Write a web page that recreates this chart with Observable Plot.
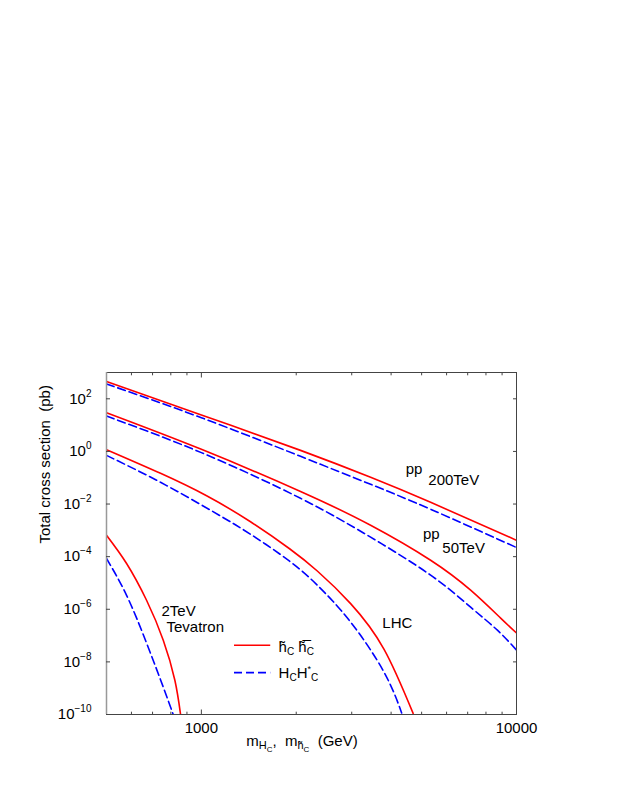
<!DOCTYPE html>
<html><head><meta charset="utf-8">
<script src="https://cdn.jsdelivr.net/npm/d3@7"></script>
<script src="https://cdn.jsdelivr.net/npm/@observablehq/plot@0.6"></script>
<style>
body{margin:0;background:#fff}
svg text{font-family:"Liberation Sans",Arial,Helvetica,sans-serif}
</style>
</head><body><div id="chart"></div>
<script>
// masses (GeV) and total cross sections (pb)
const tevHHm = [500, 579, 670, 757, 824, 859];
const tevHHs = [6.5e-4, 5.5e-5, 2.2e-6, 6.7e-8, 2.0e-9, 1e-10];
const tevHCm = [500, 579, 670, 757, 814];
const tevHCs = [8.5e-5, 3.4e-6, 5.2e-8, 1.1e-9, 1e-10];
const lhcHHm = [500, 742, 1039, 1432, 1905, 2333, 2976, 3796, 4699];
const lhcHHs = [1.165, 0.147, 0.0206, 2.12e-3, 2.0e-4, 2.85e-5, 1.64e-6, 3.07e-8, 1.1e-10];
const lhcHCm = [500, 742, 1077, 1432, 1905, 2333, 2976, 3796, 4321];
const lhcHCs = [0.708, 0.0669, 5.54e-3, 7.11e-4, 6.72e-5, 8.25e-6, 3.25e-7, 4.12e-9, 1.15e-10];
const pp50HHm = [500, 1000, 2064, 3444, 5339, 7152, 8906, 10000];
const pp50HHs = [29.5, 1.2, 0.030, 1.56e-3, 7.3e-5, 5.3e-6, 4.6e-7, 1.25e-7];
const pp50HCm = [500, 1000, 2064, 3444, 5339, 7152, 8698, 10000];
const pp50HCs = [22, 0.90, 0.0165, 5.5e-4, 1.98e-5, 1.2e-6, 1.6e-7, 2.8e-8];
const pp200HHm = [500, 1000, 2064, 3444, 5339, 10000];
const pp200HHs = [455, 24.4, 1.096, 0.1035, 0.01165, 4.21e-4];
const pp200HCm = [500, 1000, 2064, 3444, 5339, 10000];
const pp200HCs = [366, 19.1, 0.649, 0.0562, 6.32e-3, 2.22e-4];

// tick values
const xMajor = [1000, 10000];
const xMinor = [600, 700, 800, 900, 2000, 3000, 4000, 5000, 6000, 7000, 8000, 9000];
const yMajor = [1e-10, 1e-8, 1e-6, 1e-4, 1e-2, 1, 100];

const series = [
  ["tev", "hh", tevHHm, tevHHs], ["tev", "HH", tevHCm, tevHCs],
  ["lhc", "hh", lhcHHm, lhcHHs], ["lhc", "HH", lhcHCm, lhcHCs],
  ["pp50", "hh", pp50HHm, pp50HHs], ["pp50", "HH", pp50HCm, pp50HCs],
  ["pp200", "hh", pp200HHm, pp200HHs], ["pp200", "HH", pp200HCm, pp200HCs]
];
const rows = series.flatMap(([c, k, ms, ss]) => ms.map((m, i) => ({collider: c, kind: k, m, s: ss[i]})));

const RED = "#ff0000", BLUE = "#0000ff", AX = "#444";
const FS = 15;

const chart = Plot.plot({
  width: 623, height: 806,
  marginLeft: 106, marginRight: 107, marginTop: 372, marginBottom: 92,
  style: {fontFamily: "'Liberation Sans', Arial, sans-serif", fontSize: FS + "px", background: "white", color: "black"},
  x: {type: "log", domain: [500, 10000], label: null},
  y: {type: "log", domain: [1e-10, 1e3], label: null},
  marks: [
    Plot.line(rows.filter(d => d.kind === "hh"), {x: "m", y: "s", z: "collider", stroke: RED, strokeWidth: 1.6, curve: "natural", clip: true}),
    Plot.line(rows.filter(d => d.kind === "HH"), {x: "m", y: "s", z: "collider", stroke: BLUE, strokeWidth: 1.6, strokeDasharray: "8,4", curve: "natural", clip: true}),
    Plot.frame({stroke: AX}),
    Plot.ruleX([500], {stroke: "#999", strokeWidth: 1.5}),
    Plot.axisX(xMajor, {anchor: "bottom", tickSize: -4.5, tickPadding: 12.2, tickFormat: d => String(d), label: null, stroke: AX}),
    Plot.axisX(xMinor, {anchor: "bottom", tickSize: -2.3, tickFormat: () => "", label: null, stroke: AX}),
    Plot.axisX(xMajor, {anchor: "top", tickSize: -4.5, tickFormat: () => "", label: null, stroke: AX}),
    Plot.axisX(xMinor, {anchor: "top", tickSize: -2.3, tickFormat: () => "", label: null, stroke: AX}),
    Plot.axisY(yMajor, {anchor: "left", tickSize: -4, tickPadding: 19, tickFormat: d => String(Math.round(Math.log10(d))), label: null, stroke: AX}),
    Plot.axisY(yMajor, {anchor: "right", tickSize: -4, tickFormat: () => "", label: null, stroke: AX}),
    // axis titles
    Plot.text(["Total cross section\u00a0\u00a0(pb)"], {text: d => d, frameAnchor: "left", dx: -61.5, rotate: -90, fontSize: FS}),
    Plot.text(["{xlabel}"], {text: d => d, frameAnchor: "bottom", textAnchor: "start", dx: -65.3, dy: 31.2, fontSize: FS}),
    // curve annotations
    Plot.text(["pp"], {text: d => d, x: 4449, y: 0.218, textAnchor: "start", fontSize: FS}),
    Plot.text(["200TeV"], {text: d => d, x: 5251, y: 0.0783, textAnchor: "start", fontSize: FS}),
    Plot.text(["pp"], {text: d => d, x: 5048, y: 7.43e-4, textAnchor: "start", fontSize: FS}),
    Plot.text(["50TeV"], {text: d => d, x: 5817, y: 2.11e-4, textAnchor: "start", fontSize: FS}),
    Plot.text(["LHC"], {text: d => d, x: 3751, y: 2.85e-7, textAnchor: "start", fontSize: FS}),
    Plot.text(["2TeV"], {text: d => d, x: 747, y: 8.36e-7, textAnchor: "start", fontSize: FS}),
    Plot.text(["Tevatron"], {text: d => d, x: 775, y: 2.12e-7, textAnchor: "start", fontSize: FS}),
    // legend
    Plot.ruleY([4.3e-8], {x1: 1274, x2: 1660, stroke: RED, strokeWidth: 1.6}),
    Plot.ruleY([3.9e-9], {x1: 1274, x2: 1660, stroke: BLUE, strokeWidth: 1.6, strokeDasharray: "8,4"}),
    Plot.text(["{leg1}"], {text: d => d, x: 1758, y: 3.69e-8, textAnchor: "start", fontSize: FS}),
    Plot.text(["{leg2}"], {text: d => d, x: 1758, y: 3.61e-9, textAnchor: "start", fontSize: FS})
  ]
});
document.getElementById("chart").appendChild(chart);

// rich text (sub/superscripts) as real tspans
const NS = "http://www.w3.org/2000/svg";
function rich(el, parts) {
  el.textContent = "";
  let cur = 0;
  for (const p of parts) {
    const ts = document.createElementNS(NS, "tspan");
    ts.textContent = p.t;
    if (p.size) ts.setAttribute("font-size", p.size);
    const off = p.off || 0;
    if (off !== cur) { ts.setAttribute("dy", off - cur); cur = off; }
    if (p.dx) ts.setAttribute("dx", p.dx);
    el.appendChild(ts);
  }
}
const svg = d3.select(chart);
svg.selectAll('g[aria-label="y-axis tick label"] text').each(function() {
  const raw = this.textContent;
  if (!raw) return;
  const e = raw.replace("-", "\u2212");
  rich(this, [{t: "10"}, {t: e, size: 10, off: -7}]);
});
svg.selectAll("text").each(function() {
  const t = this.textContent;
  if (t === "{xlabel}") rich(this, [
    {t: "m"}, {t: "H", size: 11, off: 3.5}, {t: "C", size: 8, off: 6},
    {t: ",\u00a0\u00a0m", off: 0}, {t: "h\u0303", size: 11, off: 3.5}, {t: "C", size: 8, off: 6},
    {t: "\u00a0\u00a0(GeV)", off: 0}
  ]);
  if (t === "{leg1}") rich(this, [
    {t: "h\u0303"}, {t: "C", size: 10, off: 3}, {t: "\u00a0", off: 0},
    {t: "h\u0303\u0305"}, {t: "C", size: 10, off: 3}
  ]);
  if (t === "{leg2}") rich(this, [
    {t: "H"}, {t: "C", size: 10, off: 3}, {t: "H", off: 0},
    {t: "*", size: 9, off: -6}, {t: "C", size: 10, off: 3}
  ]);
});
</script>
</body></html>
